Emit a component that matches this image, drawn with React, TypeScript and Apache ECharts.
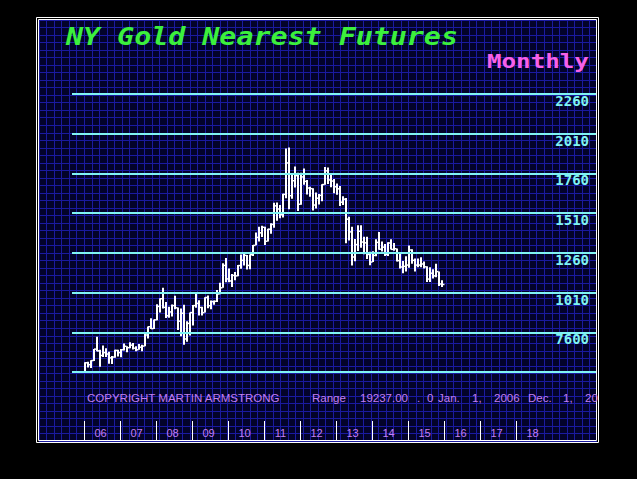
import React, { useEffect, useRef } from "react";
import * as echarts from "echarts";

const startYear = 2006;
const leadMonths = 4; // empty months shown before Jan 2006
const totalMonths = 175;

const highs = [
  571, 574, 584, 654, 732, 650, 677, 660, 638, 611, 650, 650,
  655, 690, 672, 697, 693, 672, 686, 681, 752, 796, 848, 840,
  937, 975, 1040, 950, 920, 935, 990, 916, 910, 934, 830, 885,
  931, 1006, 962, 920, 980, 992, 960, 960, 1026, 1072, 1195, 1227,
  1162, 1127, 1140, 1183, 1250, 1266, 1246, 1250, 1310, 1388, 1424, 1431,
  1424, 1412, 1447, 1575, 1577, 1561, 1632, 1917, 1923, 1760, 1804, 1764,
  1764, 1791, 1718, 1676, 1667, 1640, 1630, 1692, 1800, 1798, 1755, 1725,
  1697, 1681, 1616, 1605, 1488, 1424, 1348, 1434, 1434, 1361, 1362, 1267,
  1270, 1345, 1392, 1331, 1315, 1326, 1345, 1322, 1288, 1255, 1208, 1239,
  1307, 1283, 1224, 1224, 1232, 1205, 1175, 1170, 1157, 1191, 1142, 1088,
];
const lows = [
  516, 538, 535, 580, 641, 543, 605, 605, 562, 560, 599, 607,
  603, 645, 635, 660, 652, 640, 650, 641, 672, 721, 780, 780,
  835, 885, 910, 850, 852, 860, 905, 775, 735, 681, 700, 740,
  802, 915, 865, 865, 884, 912, 905, 934, 950, 1000, 1040, 1075,
  1075, 1045, 1087, 1112, 1160, 1180, 1155, 1157, 1240, 1308, 1331, 1360,
  1309, 1331, 1380, 1418, 1462, 1478, 1483, 1603, 1535, 1600, 1672, 1523,
  1563, 1688, 1627, 1613, 1527, 1540, 1565, 1585, 1688, 1694, 1673, 1635,
  1625, 1555, 1562, 1321, 1338, 1180, 1207, 1271, 1292, 1251, 1221, 1182,
  1202, 1239, 1280, 1268, 1240, 1240, 1281, 1273, 1206, 1161, 1131, 1142,
  1167, 1191, 1142, 1170, 1169, 1162, 1077, 1077, 1098, 1107, 1052, 1045,
];
const closes = [
  568, 556, 582, 654, 643, 614, 632, 623, 599, 604, 646, 632,
  650, 672, 663, 679, 660, 650, 666, 673, 743, 795, 783, 838,
  923, 971, 917, 864, 888, 928, 914, 830, 880, 718, 816, 884,
  928, 942, 916, 884, 979, 927, 953, 955, 1001, 1040, 1181, 1096,
  1083, 1118, 1115, 1180, 1213, 1244, 1181, 1248, 1307, 1357, 1386, 1421,
  1333, 1409, 1439, 1556, 1536, 1500, 1628, 1826, 1620, 1714, 1746, 1566,
  1738, 1710, 1668, 1664, 1561, 1604, 1622, 1690, 1776, 1719, 1712, 1676,
  1663, 1579, 1598, 1472, 1392, 1234, 1312, 1396, 1328, 1323, 1250, 1202,
  1244, 1326, 1283, 1296, 1250, 1322, 1282, 1286, 1211, 1171, 1175, 1183,
  1278, 1213, 1183, 1183, 1190, 1172, 1095, 1132, 1115, 1142, 1064, 1061,
];

const levels = [510, 760, 1010, 1260, 1510, 1760, 2010, 2260];
const levelLabels = ["", "7600", "1010", "1260", "1510", "1760", "2010", "2260"];
const firstYearTick = 2006;
const lastYearTick = 2018;

const titleText = "NY Gold Nearest Futures";
const periodText = "Monthly";
const footerParts: [string, number][] = [
  ["COPYRIGHT MARTIN ARMSTRONG", 87],
  ["Range", 312],
  ["19237.00", 360],
  [".", 417],
  ["0", 427],
  ["Jan.", 438],
  ["1,", 472],
  ["2006", 494],
  ["Dec.", 528],
  ["1,", 563],
  ["20", 585],
];

const CYAN = "#7ff3f3";
const LAV = "#c47ff0";

function buildMonths(): string[] {
  const out: string[] = [];
  let y = startYear;
  let m = 1 - leadMonths;
  while (m < 1) { m += 12; y -= 1; }
  for (let k = 0; k < totalMonths; k++) {
    out.push(`${y}-${String(m).padStart(2, "0")}`);
    m++;
    if (m > 12) { m = 1; y++; }
  }
  return out;
}

export default function App() {
  const ref = useRef<HTMLDivElement>(null);
  useEffect(() => {
    if (!ref.current) return;
    const chart = echarts.init(ref.current, null, { renderer: "svg" });
    const months = buildMonths();
    const barData = highs.map((h, k) => [k + leadMonths, h, lows[k], closes[k]]);
    const inYears = (v: string) => {
      const yr = parseInt(v.slice(0, 4), 10);
      return yr >= firstYearTick && yr <= lastYearTick;
    };

    const graphics: any[] = [
      { type: "rect", z: 99, shape: { x: 597, y: 19, width: 1, height: 423 }, style: { fill: "#000000" } },
      { type: "rect", z: 100, shape: { x: 36.5, y: 17.5, width: 562, height: 425 }, style: { fill: "none", stroke: "#ffffff", lineWidth: 1 } },
      { type: "rect", z: 100, shape: { x: 38.5, y: 19.5, width: 558, height: 421 }, style: { fill: "none", stroke: "#ffffff", lineWidth: 1 } },
      {
        type: "text", z: 100, x: 66, y: 37, scaleX: 1.18,
        style: { text: titleText, fill: "#3cf03c", font: 'italic bold 24px "DejaVu Sans Mono"', align: "left", verticalAlign: "middle" },
      },
      {
        type: "text", z: 100, x: 487, y: 61, scaleX: 1.21,
        style: { text: periodText, fill: "#f860e8", font: 'bold 20px "DejaVu Sans Mono"', align: "left", verticalAlign: "middle" },
      },
    ];
    footerParts.forEach(([t, x]) => {
      graphics.push({
        type: "text", z: 100, x, y: 397.5,
        style: { text: t, fill: LAV, font: '11.5px "Liberation Sans"', align: "left", verticalAlign: "middle" },
      });
    });

    chart.setOption({
      animation: false,
      backgroundColor: "#000000",
      grid: [
        { left: 72, top: 94, width: 525, height: 278, show: false },
        { left: 39, top: 20, width: 558, height: 421, show: true, backgroundColor: "#03032a", borderWidth: 0 },
      ],
      xAxis: [
        {
          type: "category", gridIndex: 0, data: months, boundaryGap: true, position: "bottom", offset: 69,
          axisLine: { show: false },
          axisTick: {
            show: true, inside: true, length: 20,
            interval: (_i: number, v: string) => v.endsWith("-01") && inYears(v),
            lineStyle: { color: "#ffffff", width: 1 },
          },
          axisLabel: {
            show: true, inside: true, margin: 3, color: LAV, fontSize: 11, fontFamily: "Liberation Sans",
            interval: (_i: number, v: string) => v.endsWith("-06") && inYears(v),
            formatter: (v: string) => v.slice(2, 4),
          },
          splitLine: { show: false },
        },
        {
          type: "value", gridIndex: 1, min: 0, max: 74, interval: 1,
          axisLine: { show: false }, axisTick: { show: false }, axisLabel: { show: false },
          splitLine: { show: true, lineStyle: { color: "#1a1aa0", width: 1 } },
        },
      ],
      yAxis: [
        {
          type: "value", gridIndex: 0, min: 510, max: 2260,
          axisLine: { show: false }, axisTick: { show: false }, axisLabel: { show: false }, splitLine: { show: false },
        },
        {
          type: "value", gridIndex: 1, min: 0, max: 56, interval: 1,
          axisLine: { show: false }, axisTick: { show: false }, axisLabel: { show: false },
          splitLine: { show: true, lineStyle: { color: "#1a1aa0", width: 1 } },
        },
      ],
      series: [
        {
          type: "line", xAxisIndex: 0, yAxisIndex: 0, data: [], silent: true,
          markLine: {
            silent: true, symbol: ["none", "none"], animation: false,
            lineStyle: { color: CYAN, width: 2, type: "solid" },
            label: {
              show: true, position: "insideEndBottom", color: CYAN, fontSize: 14,
              fontFamily: "DejaVu Sans Mono", fontWeight: "bold", distance: 0,
              padding: [0, 8, 0, 0],
            },
            data: levels.map((v, i) => ({
              yAxis: v,
              label: levelLabels[i] ? { show: true, formatter: levelLabels[i] } : { show: false },
            })),
          },
        },
        {
          type: "custom", xAxisIndex: 0, yAxisIndex: 0, data: barData,
          encode: { x: 0, y: [1, 2, 3] },
          renderItem: (_p: any, api: any) => {
            const i = api.value(0);
            const top = api.coord([i, api.value(1)]);
            const bot = api.coord([i, api.value(2)]);
            const cl = api.coord([i, api.value(3)]);
            const x = Math.floor(top[0]);
            return {
              type: "group",
              children: [
                { type: "line", shape: { x1: x, y1: top[1], x2: x, y2: bot[1] }, style: { stroke: "#ffffff", lineWidth: 2 } },
                { type: "line", shape: { x1: x, y1: cl[1], x2: x + 2.5, y2: cl[1] }, style: { stroke: "#ffffff", lineWidth: 1.5 } },
              ],
            };
          },
        },
      ],
      graphic: graphics,
    });
    return () => chart.dispose();
  }, []);
  return (
    <div
      ref={ref}
      style={{ position: "fixed", left: 0, top: 0, width: 637, height: 479, background: "#000" }}
    />
  );
}
